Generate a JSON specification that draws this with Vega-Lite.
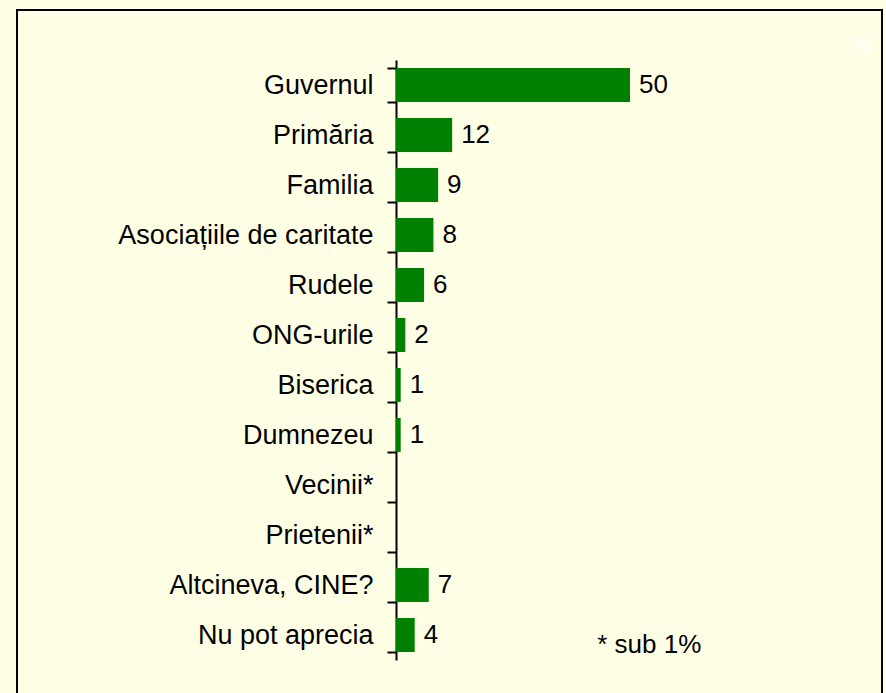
{
  "$schema": "https://vega.github.io/schema/vega-lite/v6.json",
  "width": 865,
  "height": 690,
  "autosize": {"type": "none"},
  "padding": {"left": 17, "top": 10, "right": 4, "bottom": 0},
  "background": "#FFFFE6",
  "config": {
    "view": {"stroke": "#000000", "strokeWidth": 2, "fill": "#FFFFE6"},
    "font": "Liberation Sans"
  },
  "datasets": {
    "main": [
      {"category": "Guvernul", "value": 50},
      {"category": "Primăria", "value": 12},
      {"category": "Familia", "value": 9},
      {"category": "Asociațiile de caritate", "value": 8},
      {"category": "Rudele", "value": 6},
      {"category": "ONG-urile", "value": 2},
      {"category": "Biserica", "value": 1},
      {"category": "Dumnezeu", "value": 1},
      {"category": "Vecinii*", "value": null},
      {"category": "Prietenii*", "value": null},
      {"category": "Altcineva, CINE?", "value": 7},
      {"category": "Nu pot aprecia", "value": 4}
    ],
    "notes": [
      {"note": "* sub 1%", "category": "Nu pot aprecia", "value": 43, "kind": "note"},
      {"note": "%", "category": "Guvernul", "value": 97, "kind": "unit"}
    ]
  },
  "layer": [
    {
      "data": {"name": "main"},
      "mark": {"type": "bar", "color": "#008000"},
      "encoding": {
        "y": {
          "field": "category",
          "type": "nominal",
          "sort": null,
          "scale": {
            "domain": ["Guvernul", "Primăria", "Familia", "Asociațiile de caritate", "Rudele", "ONG-urile", "Biserica", "Dumnezeu", "Vecinii*", "Prietenii*", "Altcineva, CINE?", "Nu pot aprecia"],
            "range": [50, 650],
            "paddingInner": 0.32,
            "paddingOuter": 0.16
          },
          "axis": {
            "title": null,
            "offset": -379,
            "tickBand": "extent",
            "tickSize": 9,
            "tickWidth": 2,
            "tickColor": "#000000",
            "domainColor": "#000000",
            "domainWidth": 2,
            "labelFontSize": 27,
            "labelColor": "#000000",
            "labelPadding": 14,
            "labelLimit": 500,
            "labelFont": "Liberation Sans",
            "grid": false
          }
        },
        "x": {
          "field": "value",
          "type": "quantitative",
          "scale": {"domain": [0, 100], "range": [379, 847]},
          "axis": null
        }
      }
    },
    {
      "data": {"name": "main"},
      "mark": {"type": "text", "align": "left", "baseline": "middle", "dx": 9, "fontSize": 26, "color": "#000000", "font": "Liberation Sans"},
      "encoding": {
        "y": {"field": "category", "type": "nominal", "sort": null},
        "x": {"field": "value", "type": "quantitative"},
        "text": {"field": "value", "type": "quantitative"}
      }
    },
    {
      "data": {"name": "notes"},
      "transform": [{"filter": "datum.kind === 'note'"}],
      "mark": {"type": "text", "align": "left", "baseline": "middle", "fontSize": 26, "color": "#000000", "font": "Liberation Sans", "dy": 10},
      "encoding": {
        "y": {"field": "category", "type": "nominal", "sort": null},
        "x": {"field": "value", "type": "quantitative"},
        "text": {"field": "note"}
      }
    },
    {
      "data": {"name": "notes"},
      "transform": [{"filter": "datum.kind === 'unit'"}],
      "mark": {"type": "text", "align": "left", "baseline": "middle", "fontSize": 24, "color": "#FFFFFF", "font": "Liberation Sans", "dy": -40},
      "encoding": {
        "y": {"field": "category", "type": "nominal", "sort": null},
        "x": {"field": "value", "type": "quantitative"},
        "text": {"field": "note"}
      }
    }
  ]
}
